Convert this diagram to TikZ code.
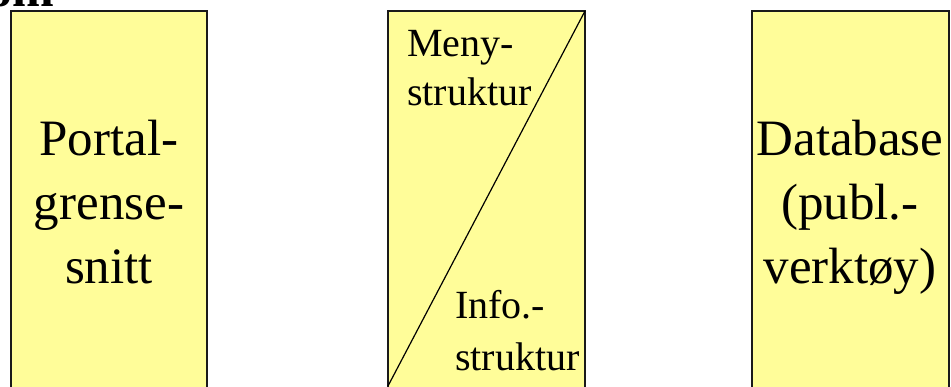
\documentclass[tikz,border=0pt]{standalone}
\usepackage{fontspec}
\setmainfont{Liberation Serif}
\definecolor{boxfill}{HTML}{FFFD99}
\definecolor{boxline}{HTML}{1A1A1A}
\tikzset{
  panel/.style={draw=boxline, line width=1.4pt, fill=boxfill},
  bigtxt/.style={inner sep=0pt, anchor=base, font=\fontsize{51}{64}\selectfont},
  midtxt/.style={inner sep=0pt, anchor=base west, font=\fontsize{40}{49}\selectfont},
  divider/.style={draw=black, line width=1.2pt}
}
\begin{document}
\begin{tikzpicture}[x=1pt,y=-1pt]
\useasboundingbox (0,0) rectangle (951,386);
\clip (0,0) rectangle (951,386);
% clipped title fragment
\node[inner sep=0pt, anchor=base west, font=\fontsize{50}{60}\selectfont\bfseries] (title) at (-13,6) {om};
% boxes
\path[panel] (11,11) rectangle (207,400);
\path[panel] (388,11) rectangle (585,400);
\path[panel] (752,11) rectangle (949,400);
\coordinate (dtop) at (585,11);
\coordinate (dbot) at (388,386);
\draw[divider] (dtop) -- (dbot);
% left text
\node[bigtxt] (p1) at (109,155) {Portal-};
\node[bigtxt] (p2) at (109,219) {grense-};
\node[bigtxt] (p3) at (109,283) {snitt};
% middle text
\node[midtxt] (m1) at (407,56) {Meny-};
\node[midtxt] (m2) at (407,105) {struktur};
\node[midtxt] (i1) at (455,318) {Info.-};
\node[midtxt] (i2) at (455,370) {struktur};
% right text
\node[bigtxt] (d1) at (850,155) {Database};
\node[bigtxt] (d2) at (850,219) {(publ.-};
\node[bigtxt] (d3) at (850,283) {verktøy)};
\end{tikzpicture}
\end{document}
